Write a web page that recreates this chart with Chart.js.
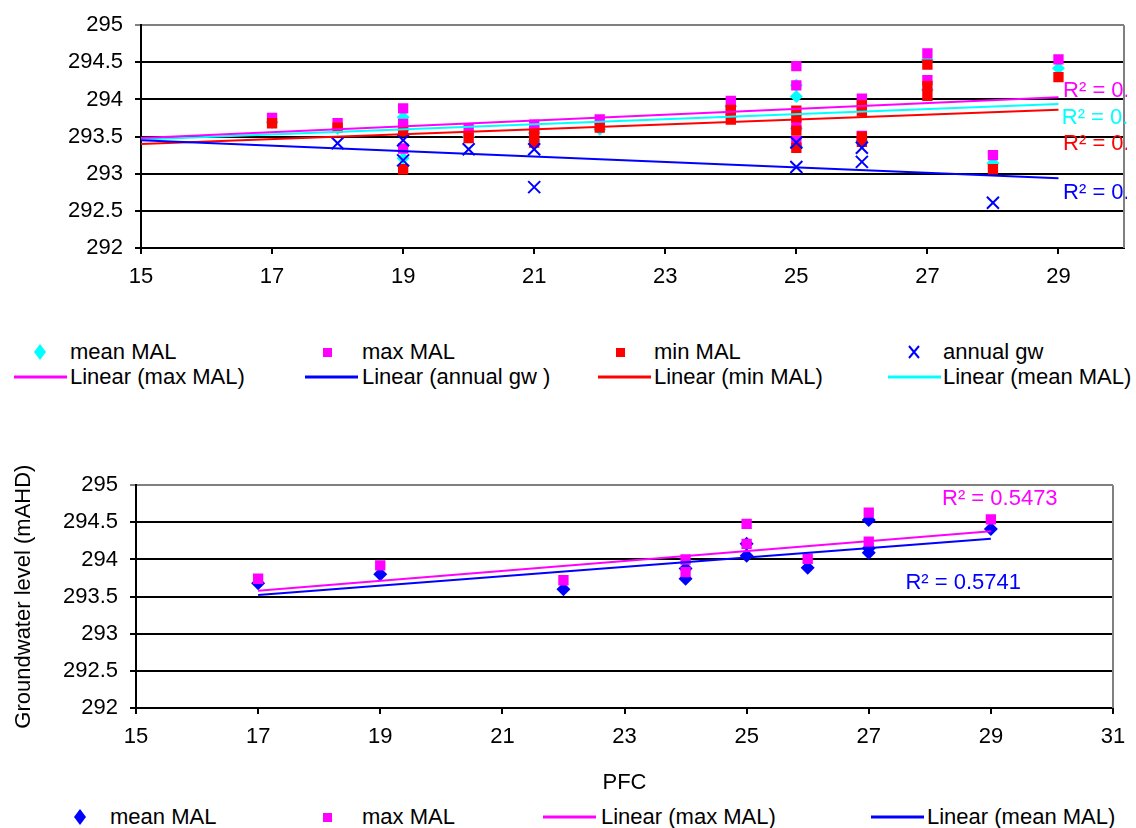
<!DOCTYPE html>
<html>
<head>
<meta charset="utf-8">
<title>Groundwater level vs PFC</title>
<script src="https://cdn.jsdelivr.net/npm/chart.js@4.4.1/dist/chart.umd.min.js"></script>
<style>
  html, body { margin: 0; padding: 0; background: #fff; }
  body { position: relative; width: 1136px; height: 828px; overflow: hidden;
         font-family: "Liberation Sans", Arial, sans-serif; }
  canvas { display: block; }
  .box { position: absolute; left: 0; }
  #topBox { top: 0; }
  #pfcBox { top: 460px; }
  .legend-text { position: absolute; font-size: 22px; line-height: 22px; color: #000; white-space: nowrap; }
  .legend-mark { position: absolute; overflow: visible; }
</style>
</head>
<body>
<div class="box" id="topBox"><canvas id="topChart" width="1127" height="300"></canvas></div>
<div class="box" id="pfcBox"><canvas id="pfcChart" width="1136" height="340"></canvas></div>
<div id="legends"></div>
<script>
// --- Series names ---
const MEAN = 'mean MAL';
const MAX = 'max MAL';
const MIN = 'min MAL';
const GW = 'annual gw';

// --- Axis ticks ---
const levelTicks = [292, 292.5, 293, 293.5, 294, 294.5, 295];
const topXTicks = [15, 17, 19, 21, 23, 25, 27, 29];
const pfcXTicks = [15, 17, 19, 21, 23, 25, 27, 29, 31];

// --- Top chart: all sites ---
const topMeanX = [17, 18, 19, 19, 19, 20, 21, 21, 22, 24, 24, 25, 25, 25, 25, 26, 26, 27, 27, 28, 29];
const topMeanY = [293.69, 293.61, 293.76, 293.59, 293.21, 293.50, 293.55, 293.44, 293.60, 293.91, 293.76,
                  294.19, 294.04, 293.61, 293.37, 293.92, 293.44, 294.53, 294.13, 293.14, 294.42];

const topMaxX = [17, 18, 19, 19, 19, 20, 21, 21, 22, 24, 24, 25, 25, 25, 25, 26, 26, 27, 27, 28, 29];
const topMaxY = [293.75, 293.68, 293.88, 293.67, 293.34, 293.60, 293.66, 293.60, 293.73, 293.98, 293.84,
                 294.45, 294.19, 293.65, 293.44, 294.01, 293.51, 294.62, 294.26, 293.25, 294.54];

const topMinX = [17, 18, 19, 19, 20, 21, 21, 22, 24, 24, 25, 25, 25, 25, 26, 26, 26, 26, 27, 27, 27, 28, 29];
const topMinY = [293.68, 293.62, 293.57, 293.06, 293.48, 293.52, 293.42, 293.62, 293.86, 293.73,
                 293.85, 293.76, 293.58, 293.35, 293.92, 293.84, 293.50, 293.43, 294.47, 294.18, 294.05,
                 293.06, 294.30];

const gwX = [18, 19, 19, 20, 21, 21, 25, 25, 26, 26, 28];
const gwY = [293.41, 293.45, 293.18, 293.33, 293.33, 292.82, 293.42, 293.09, 293.35, 293.16, 292.61];

// linear trend lines as drawn (end points)
const topTrendX = [15, 29];
const topTrendMax = [293.48, 294.03];
const topTrendMean = [293.46, 293.94];
const topTrendMin = [293.40, 293.86];
const topTrendGw = [293.45, 292.94];

// --- Bottom chart: PFC ---
const pfcMeanX = [17, 19, 22, 24, 24, 25, 25, 26, 27, 27, 27, 29];
const pfcMeanY = [293.68, 293.80, 293.60, 293.88, 293.74, 294.21, 294.05, 293.89, 294.53, 294.15, 294.09, 294.41];
const pfcMaxX = [17, 19, 22, 24, 24, 25, 25, 26, 27, 27, 29];
const pfcMaxY = [293.74, 293.92, 293.72, 294.00, 293.83, 294.48, 294.21, 294.01, 294.63, 294.24, 294.54];

const pfcTrendX = [17, 29];
const pfcTrendMax = [293.58, 294.38];
const pfcTrendMean = [293.52, 294.28];

const pfcR2Max = 'R² = 0.5473';
const pfcR2Mean = 'R² = 0.5741';
const topR2 = 'R² = 0.';   // cut off at the plot edge in the original

// --- Styles ---
const CYAN = '#00FFFF';
const MAGENTA = '#FF00FF';
const RED = '#FF0000';
const BLUE = '#0000FF';
const BLACK = '#000000';
const GREY = '#808080';
const FONT = '"Liberation Sans", Arial, sans-serif';

Chart.defaults.font.family = FONT;
Chart.defaults.color = BLACK;

function points(xs, ys) {
    return xs.map((x, i) => ({ x: x, y: ys[i] }));
}

function markers(label, xs, ys, style, color, radius, order) {
    return {
        label: label,
        data: points(xs, ys),
        pointStyle: style,
        pointRadius: radius,
        pointHoverRadius: radius,
        pointBackgroundColor: color,
        pointBorderColor: color,
        pointBorderWidth: style === 'crossRot' ? 2 : 0,
        order: order
    };
}

function trend(label, xs, ys, color) {
    return {
        label: label,
        data: points(xs, ys),
        showLine: true,
        borderColor: color,
        borderWidth: 2,
        pointRadius: 0,
        pointHoverRadius: 0,
        fill: false,
        order: -1
    };
}

function levelAxis(width, title) {
    return {
        type: 'linear',
        min: 292,
        max: 295,
        afterBuildTicks: s => { s.ticks = levelTicks.map(v => ({ value: v })); },
        afterFit: s => { s.width = width; },
        grid: {
            color: c => (c.tick && c.tick.value === 295 ? GREY : BLACK),
            lineWidth: 2,
            drawTicks: true,
            tickLength: 6
        },
        border: { display: true, color: BLACK, width: 2 },
        ticks: { color: BLACK, font: { size: 22 }, padding: 12, callback: v => String(v) },
        title: title
            ? { display: true, text: title, color: BLACK, font: { size: 22 }, padding: { top: 11, bottom: 0 } }
            : { display: false }
    };
}

function pfcAxis(min, max, tickList, height, title) {
    return {
        type: 'linear',
        min: min,
        max: max,
        afterBuildTicks: s => { s.ticks = tickList.map(v => ({ value: v })); },
        afterFit: s => { s.height = height; },
        grid: { drawOnChartArea: false, drawTicks: true, tickLength: 6, color: BLACK, lineWidth: 2 },
        border: { display: true, color: BLACK, width: 2 },
        ticks: { color: BLACK, font: { size: 22 }, padding: 10, maxRotation: 0, autoSkip: false,
                 callback: v => String(v) },
        title: title
            ? { display: true, text: title, color: BLACK, font: { size: 22 }, padding: { top: 0, bottom: 4 } }
            : { display: false }
    };
}

// grey right-hand border of the plot area
const framePlugin = {
    id: 'frame',
    beforeDatasetsDraw(chart) {
        const { ctx, chartArea } = chart;
        ctx.save();
        ctx.strokeStyle = GREY;
        ctx.lineWidth = 2;
        ctx.beginPath();
        ctx.moveTo(chartArea.right, chartArea.top);
        ctx.lineTo(chartArea.right, chartArea.bottom);
        ctx.stroke();
        ctx.restore();
    }
};

// R² labels, anchored in data units
function r2Plugin(items) {
    return {
        id: 'r2labels',
        afterDatasetsDraw(chart) {
            const { ctx } = chart;
            const xs = chart.scales.x, ys = chart.scales.y;
            ctx.save();
            ctx.font = '22px ' + FONT;
            ctx.textAlign = 'left';
            ctx.textBaseline = 'middle';
            items.forEach(it => {
                ctx.fillStyle = it.color;
                ctx.fillText(it.text, xs.getPixelForValue(it.x), ys.getPixelForValue(it.y));
            });
            ctx.restore();
        }
    };
}

const common = {
    responsive: false,
    animation: false,
    devicePixelRatio: 1,
    events: [],
    plugins: { legend: { display: false }, tooltip: { enabled: false } }
};

// --- Top chart ---
new Chart(document.getElementById('topChart'), {
    type: 'scatter',
    data: {
        datasets: [
            trend('Linear (max MAL)', topTrendX, topTrendMax, MAGENTA),
            trend('Linear (annual gw )', topTrendX, topTrendGw, BLUE),
            trend('Linear (min MAL)', topTrendX, topTrendMin, RED),
            trend('Linear (mean MAL)', topTrendX, topTrendMean, CYAN),
            markers(GW, gwX, gwY, 'crossRot', BLUE, 8.5, 0),
            markers(MIN, topMinX, topMinY, 'rect', RED, 7.3, 1),
            markers(MAX, topMaxX, topMaxY, 'rect', MAGENTA, 7.3, 2),
            markers(MEAN, topMeanX, topMeanY, 'rectRot', CYAN, 6.5, 3)
        ]
    },
    options: Object.assign({}, common, {
        layout: { autoPadding: false, padding: { left: 0, top: 23, right: 3, bottom: 0 } },
        scales: {
            x: pfcAxis(15, 30, topXTicks, 52, null),
            y: levelAxis(141, null)
        }
    }),
    plugins: [framePlugin, r2Plugin([
        { text: topR2, color: MAGENTA, x: 29.07, y: 294.12 },
        { text: topR2, color: CYAN, x: 29.05, y: 293.75 },
        { text: topR2, color: RED, x: 29.07, y: 293.40 },
        { text: topR2, color: BLUE, x: 29.07, y: 292.74 }
    ])]
});

// --- Bottom chart ---
new Chart(document.getElementById('pfcChart'), {
    type: 'scatter',
    data: {
        datasets: [
            trend('Linear (max MAL)', pfcTrendX, pfcTrendMax, MAGENTA),
            trend('Linear (mean MAL)', pfcTrendX, pfcTrendMean, BLUE),
            markers(MAX, pfcMaxX, pfcMaxY, 'rect', MAGENTA, 7.3, 1),
            markers(MEAN, pfcMeanX, pfcMeanY, 'rectRot', BLUE, 7, 2)
        ]
    },
    options: Object.assign({}, common, {
        layout: { autoPadding: false, padding: { left: 0, top: 23, right: 23, bottom: 0 } },
        scales: {
            x: pfcAxis(15, 31, pfcXTicks, 92, 'PFC'),
            y: levelAxis(136, 'Groundwater level (mAHD)')
        }
    }),
    plugins: [framePlugin, r2Plugin([
        { text: pfcR2Max, color: MAGENTA, x: 28.2, y: 294.81 },
        { text: pfcR2Mean, color: BLUE, x: 27.6, y: 293.68 }
    ])]
});

// --- HTML legends ---
const legendItems = [
    // top chart, row 1
    { name: MEAN, mark: 'diamond', color: CYAN, cx: 40, tx: 70, cy: 352 },
    { name: MAX, mark: 'square', color: MAGENTA, cx: 327, tx: 362, cy: 352 },
    { name: MIN, mark: 'square', color: RED, cx: 620, tx: 654, cy: 352 },
    { name: GW, mark: 'cross', color: BLUE, cx: 914, tx: 943, cy: 352 },
    // top chart, row 2
    { name: 'Linear (max MAL)', mark: 'line', color: MAGENTA, cx: 40, tx: 70, cy: 377 },
    { name: 'Linear (annual gw )', mark: 'line', color: BLUE, cx: 331, tx: 362, cy: 377 },
    { name: 'Linear (min MAL)', mark: 'line', color: RED, cx: 624, tx: 654, cy: 377 },
    { name: 'Linear (mean MAL)', mark: 'line', color: CYAN, cx: 914, tx: 943, cy: 377 },
    // bottom chart
    { name: MEAN, mark: 'diamond', color: BLUE, cx: 80, tx: 110, cy: 817 },
    { name: MAX, mark: 'square', color: MAGENTA, cx: 327, tx: 362, cy: 817 },
    { name: 'Linear (max MAL)', mark: 'line', color: MAGENTA, cx: 569, tx: 601, cy: 817 },
    { name: 'Linear (mean MAL)', mark: 'line', color: BLUE, cx: 897, tx: 927, cy: 817 }
];

const SVG_NS = 'http://www.w3.org/2000/svg';

function markSvg(kind, color) {
    const svg = document.createElementNS(SVG_NS, 'svg');
    let w, h, inner;
    if (kind === 'diamond') {
        w = 12; h = 16;
        inner = `<polygon points="6,0 12,8 6,16 0,8" fill="${color}"/>`;
    } else if (kind === 'square') {
        w = 9; h = 9;
        inner = `<rect x="0" y="0" width="9" height="9" fill="${color}"/>`;
    } else if (kind === 'cross') {
        w = 12; h = 14;
        inner = `<path d="M1,1 L11,13 M11,1 L1,13" stroke="${color}" stroke-width="2" fill="none"/>`;
    } else {
        w = 53; h = 4;
        inner = `<rect x="0" y="0.5" width="53" height="3" fill="${color}"/>`;
    }
    svg.setAttribute('width', w);
    svg.setAttribute('height', h);
    svg.setAttribute('class', 'legend-mark');
    svg.innerHTML = inner;
    return { svg: svg, w: w, h: h };
}

const legendBox = document.getElementById('legends');
legendItems.forEach(item => {
    const m = markSvg(item.mark, item.color);
    m.svg.style.left = (item.cx - m.w / 2) + 'px';
    m.svg.style.top = (item.cy - m.h / 2) + 'px';
    legendBox.appendChild(m.svg);

    const t = document.createElement('div');
    t.className = 'legend-text';
    t.textContent = item.name;
    t.style.left = item.tx + 'px';
    t.style.top = (item.cy - 10.7) + 'px';
    legendBox.appendChild(t);
});
</script>
</body>
</html>
